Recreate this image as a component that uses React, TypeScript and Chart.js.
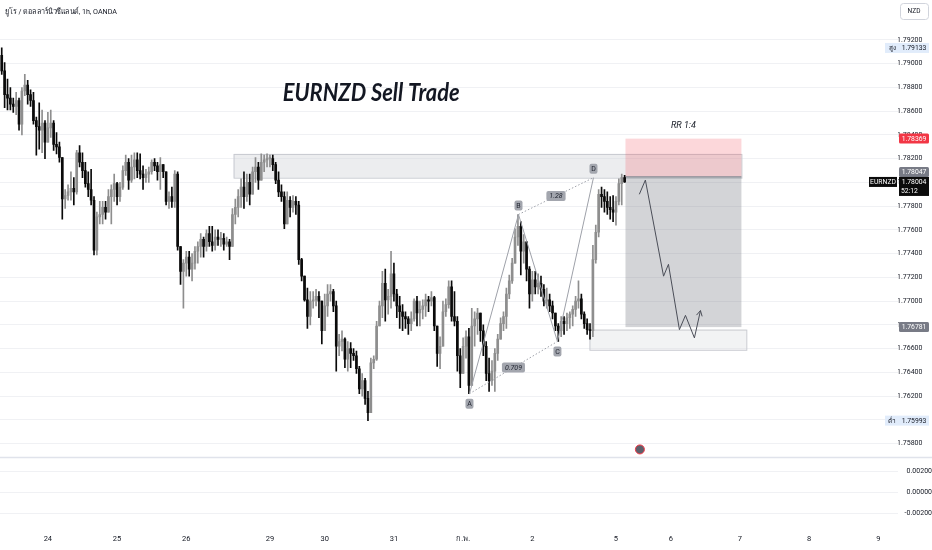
import React, { useEffect, useRef } from 'react';
import { Chart, registerables } from 'chart.js';

Chart.register(...registerables);

// ---------- data (hourly EURNZD candles) ----------
const FIRST_OPEN = 1.7907;

const highs = [
  1.79133, 1.7901, 1.7887, 1.7880, 1.7871, 1.7876, 1.7871, 1.7880, 1.7891, 1.7886,
  1.7878, 1.7876, 1.7855, 1.7867, 1.7861, 1.7852, 1.7859, 1.7861, 1.7852, 1.7842,
  1.7834, 1.7821, 1.7794, 1.7798, 1.7809, 1.7804, 1.7827, 1.7831, 1.7825, 1.7817,
  1.7809, 1.7811, 1.7788, 1.7775, 1.7784, 1.7784, 1.7784, 1.7794, 1.7798, 1.7807,
  1.7800, 1.7800, 1.7814, 1.7823, 1.7820, 1.7823, 1.7825, 1.7825, 1.7824, 1.7814,
  1.7811, 1.7813, 1.7819, 1.7820, 1.7817, 1.7821, 1.7815, 1.7809, 1.7792, 1.7796,
  1.7810, 1.7809, 1.7746, 1.7735, 1.7742, 1.7742, 1.7740, 1.7746, 1.7750, 1.7757,
  1.7754, 1.7760, 1.7763, 1.7763, 1.7760, 1.7760, 1.7758, 1.7757, 1.7754, 1.7752,
  1.7778, 1.7786, 1.7794, 1.7803, 1.7809, 1.7807, 1.7807, 1.7813, 1.7821, 1.7817,
  1.7824, 1.7823, 1.7824, 1.7823, 1.7823, 1.7817, 1.7809, 1.7798, 1.7792, 1.7792,
  1.7788, 1.7789, 1.7788, 1.7784, 1.7736, 1.7719, 1.7711, 1.7708, 1.7708, 1.7710,
  1.7708, 1.7700, 1.7706, 1.7714, 1.7714, 1.7710, 1.7700, 1.7672, 1.7675, 1.7669,
  1.7666, 1.7665, 1.7660, 1.7658, 1.7645, 1.7639, 1.7635, 1.7624, 1.7652, 1.7654,
  1.7683, 1.7700, 1.7725, 1.7727, 1.7710, 1.7742, 1.7732, 1.7710, 1.7704, 1.7697,
  1.7691, 1.7687, 1.7691, 1.7702, 1.7704, 1.7700, 1.7701, 1.7706, 1.7704, 1.7708,
  1.7704, 1.7675, 1.7670, 1.7700, 1.7702, 1.7717, 1.7717, 1.7708, 1.7687, 1.7660,
  1.7669, 1.7675, 1.7677, 1.7694, 1.7691, 1.7694, 1.7687, 1.7680, 1.7666, 1.7652,
  1.7650, 1.7660, 1.7672, 1.7686, 1.7691, 1.7711, 1.7722, 1.7736, 1.7761, 1.7773,
  1.7767, 1.7756, 1.7750, 1.7729, 1.7725, 1.7725, 1.7723, 1.7721, 1.7714, 1.7711,
  1.7706, 1.7700, 1.7687, 1.7681, 1.7687, 1.7687, 1.7690, 1.7691, 1.7696, 1.7704,
  1.7717, 1.7706, 1.7691, 1.7685, 1.7681, 1.7747, 1.7764, 1.7794, 1.7796, 1.7794,
  1.7792, 1.7788, 1.7789, 1.7788, 1.7803, 1.7807, 1.7806,
];

const lows = [
  1.7891, 1.7863, 1.7861, 1.7861, 1.7859, 1.7857, 1.7844, 1.7840, 1.7873, 1.7866,
  1.7864, 1.7849, 1.7823, 1.7828, 1.7825, 1.7820, 1.7834, 1.7838, 1.7827, 1.7824,
  1.7817, 1.7769, 1.7778, 1.7785, 1.7785, 1.7781, 1.7790, 1.7813, 1.7804, 1.7796,
  1.7788, 1.7781, 1.7739, 1.7739, 1.7765, 1.7765, 1.7769, 1.7777, 1.7765, 1.7784,
  1.7781, 1.7784, 1.7794, 1.7806, 1.7794, 1.7800, 1.7803, 1.7804, 1.7803, 1.7794,
  1.7800, 1.7800, 1.7807, 1.7810, 1.7802, 1.7794, 1.7804, 1.7781, 1.7778, 1.7779,
  1.7779, 1.7743, 1.7714, 1.7694, 1.7721, 1.7721, 1.7717, 1.7727, 1.7732, 1.7737,
  1.7737, 1.7742, 1.7746, 1.7742, 1.7743, 1.7747, 1.7746, 1.7743, 1.7746, 1.7735,
  1.7746, 1.7765, 1.7771, 1.7779, 1.7778, 1.7784, 1.7781, 1.7792, 1.7800, 1.7794,
  1.7802, 1.7809, 1.7813, 1.7813, 1.7810, 1.7799, 1.7788, 1.7784, 1.7761, 1.7765,
  1.7771, 1.7775, 1.7773, 1.7731, 1.7717, 1.7700, 1.7677, 1.7680, 1.7694, 1.7696,
  1.7686, 1.7664, 1.7679, 1.7687, 1.7700, 1.7691, 1.7641, 1.7654, 1.7658, 1.7644,
  1.7641, 1.7644, 1.7650, 1.7639, 1.7622, 1.7620, 1.7613, 1.75993, 1.7608, 1.7643,
  1.7650, 1.7681, 1.7686, 1.7683, 1.7689, 1.7694, 1.7700, 1.7686, 1.7677, 1.7675,
  1.7677, 1.7672, 1.7675, 1.7683, 1.7679, 1.7679, 1.7685, 1.7687, 1.7691, 1.7696,
  1.7675, 1.7645, 1.7643, 1.7662, 1.7687, 1.7694, 1.7683, 1.7679, 1.7641, 1.7627,
  1.7639, 1.7652, 1.7622, 1.7629, 1.7662, 1.7672, 1.7666, 1.7654, 1.7633, 1.7624,
  1.7629, 1.7624, 1.7650, 1.7668, 1.7675, 1.7677, 1.7702, 1.7715, 1.7732, 1.7747,
  1.7722, 1.7732, 1.7717, 1.7694, 1.7700, 1.7706, 1.7706, 1.7704, 1.7696, 1.7694,
  1.7691, 1.7685, 1.7675, 1.7666, 1.7670, 1.7672, 1.7675, 1.7677, 1.7679, 1.7687,
  1.7694, 1.7685, 1.7677, 1.7672, 1.7668, 1.7670, 1.7732, 1.7754, 1.7779, 1.7775,
  1.7773, 1.7769, 1.7767, 1.7764, 1.7781, 1.7781, 1.7800,
];

const closes = [
  1.7894, 1.7874, 1.7871, 1.7866, 1.7864, 1.7869, 1.7849, 1.7877, 1.7882, 1.7874,
  1.7869, 1.7852, 1.7847, 1.7844, 1.7850, 1.7834, 1.7846, 1.7850, 1.7832, 1.7830,
  1.7821, 1.7786, 1.7789, 1.7792, 1.7795, 1.7792, 1.7825, 1.7817, 1.7810, 1.7799,
  1.7794, 1.7785, 1.7743, 1.7771, 1.7773, 1.7779, 1.7775, 1.7788, 1.7794, 1.7799,
  1.7788, 1.7796, 1.7810, 1.7817, 1.7802, 1.7813, 1.7819, 1.7810, 1.7807, 1.7804,
  1.7807, 1.7809, 1.7817, 1.7814, 1.7809, 1.7815, 1.7809, 1.7784, 1.7788, 1.7784,
  1.7807, 1.7746, 1.7725, 1.7732, 1.7737, 1.7727, 1.7732, 1.7742, 1.7746, 1.7752,
  1.7746, 1.7757, 1.7750, 1.7747, 1.7754, 1.7752, 1.7753, 1.7748, 1.7750, 1.7746,
  1.7773, 1.7779, 1.7788, 1.7796, 1.7788, 1.7800, 1.7790, 1.7809, 1.7813, 1.7802,
  1.7817, 1.7819, 1.7820, 1.7820, 1.7815, 1.7802, 1.7792, 1.7788, 1.7765, 1.7785,
  1.7779, 1.7784, 1.7781, 1.7735, 1.7721, 1.7701, 1.7687, 1.7700, 1.7701, 1.7704,
  1.7700, 1.7675, 1.7696, 1.7706, 1.7708, 1.7696, 1.7662, 1.7666, 1.7668, 1.7651,
  1.7660, 1.7656, 1.7654, 1.7643, 1.7626, 1.7633, 1.7618, 1.7606, 1.7648, 1.7651,
  1.7679, 1.7696, 1.7715, 1.7701, 1.7704, 1.7723, 1.7706, 1.7696, 1.7691, 1.7687,
  1.7685, 1.7681, 1.7685, 1.7700, 1.7690, 1.7693, 1.7696, 1.7701, 1.7700, 1.7703,
  1.7679, 1.7656, 1.7662, 1.7691, 1.7697, 1.7712, 1.7687, 1.7683, 1.7654, 1.7639,
  1.7662, 1.7670, 1.7629, 1.7679, 1.7685, 1.7690, 1.7675, 1.7662, 1.7639, 1.7633,
  1.7641, 1.7656, 1.7668, 1.7681, 1.7687, 1.7706, 1.7717, 1.7732, 1.7754, 1.7763,
  1.7742, 1.7750, 1.7727, 1.7706, 1.7718, 1.7712, 1.7715, 1.7710, 1.7700, 1.7701,
  1.7696, 1.7690, 1.7679, 1.7675, 1.7683, 1.7681, 1.7686, 1.7689, 1.7693, 1.7700,
  1.7702, 1.7689, 1.7681, 1.7676, 1.7675, 1.7735, 1.7758, 1.7790, 1.7788, 1.7784,
  1.7779, 1.7777, 1.7775, 1.7784, 1.7799, 1.7804, 1.78004,
];

// time axis (bar index of the first bar of each day) and labels
const dayTickIndex = [16, 40, 64, 93, 112, 136, 160, 184, 213, 232, 256, 280, 304];
const dayTickLabels = ['24', '25', '26', '29', '30', '31', 'ก.พ.', '2', '5', '6', '7', '8', '9'];

// price axis ticks
const priceTicks = [
  1.758, 1.760, 1.762, 1.764, 1.766, 1.768, 1.770, 1.772, 1.774, 1.776,
  1.778, 1.780, 1.782, 1.784, 1.786, 1.788, 1.790, 1.792,
];
const oscTicks = [0.002, 0, -0.002];

// ABCD pattern
const patternIndex = [162.2, 179.2, 192.7, 205.2];
const patternPrice = [1.7622, 1.7773, 1.7666, 1.7804];
const patternNames = ['A', 'B', 'C', 'D'];
const patternRatios = ['0.709', '1.28'];

// zones
const supplyIndex = [80.4, 256.5];
const supplyPrice = [1.7824, 1.7804];
const demandIndex = [203.8, 258.2];
const demandPrice = [1.7676, 1.7659];

// short position (stop, entry, target)
const rrIndex = [216.3, 256.5];
const rrPrice = [1.78369, 1.78047, 1.76781];
const rrLabel = 'RR 1:4';

// projected path
const pathIndex = [221.1, 223.2, 229.5, 231.2, 235.0, 237.1, 240.2, 242.3];
const pathPrice = [1.7790, 1.7802, 1.7721, 1.7731, 1.7676, 1.7688, 1.7669, 1.7692];

const headline = 'EURNZD Sell Trade';
const headlineAnchor = [128.1, 1.7875];
const eventIndex = 221.3;

const titleText = 'ยูโร / ดอลลาร์นิวซีแลนด์, 1h, OANDA';
const symbol = 'EURNZD';
const currency = 'NZD';
const HIGH_PRICE = 1.79133;
const LOW_PRICE = 1.75993;
const LAST_PRICE = 1.78004;
const TIMER = '52:12';

// ---------- view settings ----------
const X_MIN = -0.6;
const X_MAX = 310.8;
const Y_MIN = 1.75683;
const Y_MAX = 1.7951;
const OSC_MIN = -0.00333;
const OSC_MAX = 0.00333;
const AXIS_FONT = 'Roboto, sans-serif';
const UP = '#8e8e8e';
const DOWN = '#0a0a0a';

function rr(ctx: CanvasRenderingContext2D, x: number, y: number, w: number, h: number, r: number) {
  ctx.beginPath();
  ctx.moveTo(x + r, y);
  ctx.lineTo(x + w - r, y);
  ctx.quadraticCurveTo(x + w, y, x + w, y + r);
  ctx.lineTo(x + w, y + h - r);
  ctx.quadraticCurveTo(x + w, y + h, x + w - r, y + h);
  ctx.lineTo(x + r, y + h);
  ctx.quadraticCurveTo(x, y + h, x, y + h - r);
  ctx.lineTo(x, y + r);
  ctx.quadraticCurveTo(x, y, x + r, y);
  ctx.closePath();
}

const overlay = {
  id: 'overlay',
  beforeDatasetsDraw(chart: any) {
    const { ctx, chartArea } = chart;
    const X = (v: number) => chart.scales.x.getPixelForValue(v);
    const Y = (v: number) => chart.scales.y.getPixelForValue(v);
    ctx.save();
    ctx.beginPath();
    ctx.rect(chartArea.left, chartArea.top, chartArea.right - chartArea.left, chartArea.bottom - chartArea.top);
    ctx.clip();

    // supply zone
    let x0 = X(supplyIndex[0]), x1 = X(supplyIndex[1]);
    let y0 = Y(supplyPrice[0]), y1 = Y(supplyPrice[1]);
    ctx.fillStyle = 'rgba(210,212,218,0.42)';
    ctx.fillRect(x0, y0, x1 - x0, y1 - y0);
    ctx.strokeStyle = '#c9cbd1';
    ctx.lineWidth = 1;
    ctx.strokeRect(x0 + 0.5, y0 + 0.5, x1 - x0, y1 - y0);

    // demand zone
    x0 = X(demandIndex[0]); x1 = X(demandIndex[1]);
    y0 = Y(demandPrice[0]); y1 = Y(demandPrice[1]);
    ctx.fillStyle = 'rgba(215,217,222,0.32)';
    ctx.fillRect(x0, y0, x1 - x0, y1 - y0);
    ctx.strokeStyle = '#c9cbd1';
    ctx.strokeRect(x0 + 0.5, y0 + 0.5, x1 - x0, y1 - y0);

    // risk / reward
    x0 = X(rrIndex[0]); x1 = X(rrIndex[1]);
    const ys = Y(rrPrice[0]), ye = Y(rrPrice[1]), yt = Y(rrPrice[2]);
    ctx.fillStyle = 'rgba(242,54,69,0.2)';
    ctx.fillRect(x0, ys, x1 - x0, ye - ys);
    ctx.fillStyle = 'rgba(120,123,134,0.33)';
    ctx.fillRect(x0, ye, x1 - x0, yt - ye);
    ctx.strokeStyle = '#8a8d96';
    ctx.lineWidth = 1.2;
    ctx.beginPath();
    ctx.moveTo(x0, ye);
    ctx.lineTo(x1, ye);
    ctx.stroke();
    ctx.restore();
  },
  afterDatasetsDraw(chart: any) {
    const { ctx } = chart;
    const X = (v: number) => chart.scales.x.getPixelForValue(v);
    const Y = (v: number) => chart.scales.y.getPixelForValue(v);
    ctx.save();

    // ABCD pattern
    const px = patternIndex.map(X);
    const py = patternPrice.map(Y);
    ctx.strokeStyle = '#9ea1a9';
    ctx.lineWidth = 1;
    ctx.beginPath();
    ctx.moveTo(px[0], py[0]);
    for (let i = 1; i < 4; i++) ctx.lineTo(px[i], py[i]);
    ctx.stroke();
    ctx.setLineDash([1.5, 2]);
    ctx.beginPath();
    ctx.moveTo(px[0], py[0]);
    ctx.lineTo(px[2], py[2]);
    ctx.moveTo(px[1], py[1]);
    ctx.lineTo(px[3], py[3]);
    ctx.stroke();
    ctx.setLineDash([]);

    // ratio labels
    const ratioPos = [
      [(px[0] + px[2]) / 2, (py[0] + py[2]) / 2],
      [(px[1] + px[3]) / 2, (py[1] + py[3]) / 2],
    ];
    ctx.font = 'italic 7px Roboto, sans-serif';
    ctx.textAlign = 'center';
    ctx.textBaseline = 'middle';
    patternRatios.forEach((t, i) => {
      const [cx, cy] = ratioPos[i];
      const w = ctx.measureText(t).width + 6;
      ctx.fillStyle = '#a3a6ae';
      rr(ctx, cx - w / 2, cy - 5, w, 10, 2);
      ctx.fill();
      ctx.fillStyle = '#1e222d';
      ctx.fillText(t, cx, cy + 0.5);
    });

    // point labels
    ctx.font = '7px Roboto, sans-serif';
    patternNames.forEach((n, i) => {
      const below = i % 2 === 0 && i !== 3;
      const cx = px[i];
      const cy = below ? py[i] + 10 : py[i] - 9;
      ctx.fillStyle = '#a3a6ae';
      rr(ctx, cx - 4, cy - 5, 8, 10, 2);
      ctx.fill();
      ctx.fillStyle = '#1e222d';
      ctx.fillText(n, cx, cy + 0.5);
    });

    // projected path with arrow
    const ax = pathIndex.map(X);
    const ay = pathPrice.map(Y);
    ctx.strokeStyle = '#4a4d57';
    ctx.lineWidth = 1;
    ctx.beginPath();
    ctx.moveTo(ax[0], ay[0]);
    for (let i = 1; i < ax.length; i++) ctx.lineTo(ax[i], ay[i]);
    const n = ax.length - 1;
    const ang = Math.atan2(ay[n] - ay[n - 1], ax[n] - ax[n - 1]);
    ctx.moveTo(ax[n], ay[n]);
    ctx.lineTo(ax[n] - 6 * Math.cos(ang - 0.5), ay[n] - 6 * Math.sin(ang - 0.5));
    ctx.moveTo(ax[n], ay[n]);
    ctx.lineTo(ax[n] - 6 * Math.cos(ang + 0.5), ay[n] - 6 * Math.sin(ang + 0.5));
    ctx.stroke();

    // RR label
    ctx.fillStyle = '#131722';
    ctx.font = 'italic 9px Roboto, sans-serif';
    ctx.fillText(rrLabel, (X(rrIndex[0]) + X(rrIndex[1])) / 2, Y(rrPrice[0]) - 13);

    // headline
    ctx.font = "italic 700 25px Lato, 'Open Sans', sans-serif";
    ctx.fillStyle = '#131722';
    ctx.fillText(headline, X(headlineAnchor[0]), Y(headlineAnchor[1]), 177);

    // event marker
    const ex = X(eventIndex);
    const ey = chart.scales.y.bottom - 8;
    ctx.beginPath();
    ctx.arc(ex, ey, 4.5, 0, Math.PI * 2);
    ctx.fillStyle = '#5d606b';
    ctx.fill();
    ctx.strokeStyle = '#f23645';
    ctx.lineWidth = 1;
    ctx.stroke();
    ctx.restore();
  },
  afterDraw(chart: any) {
    const { ctx, chartArea } = chart;
    const Y = (v: number) => chart.scales.y.getPixelForValue(v);
    const W = chart.width;
    ctx.save();

    // pane separator
    ctx.strokeStyle = '#e0e3eb';
    ctx.lineWidth = 1.5;
    ctx.beginPath();
    ctx.moveTo(0, chart.scales.y.bottom);
    ctx.lineTo(W, chart.scales.y.bottom);
    ctx.stroke();

    // title
    ctx.fillStyle = '#131722';
    ctx.font = '8px Roboto, sans-serif';
    ctx.textAlign = 'left';
    ctx.textBaseline = 'middle';
    ctx.fillText(titleText, 5, 12, 112);

    // currency box
    const bx = chartArea.right + 2;
    ctx.strokeStyle = '#d1d4dc';
    ctx.lineWidth = 1;
    rr(ctx, bx + 0.5, 3.5, 28, 16, 3);
    ctx.stroke();
    ctx.font = `6.5px ${AXIS_FONT}`;
    ctx.textAlign = 'center';
    ctx.fillText(currency, bx + 14, 11.5);

    const tagX = chartArea.right + 1;
    const tagW = 30;
    const tagFont = `6.8px ${AXIS_FONT}`;
    const tag = (yc: number, bg: string, fg: string, text: string) => {
      ctx.fillStyle = bg;
      rr(ctx, tagX, yc - 5, tagW, 10, 1.5);
      ctx.fill();
      ctx.fillStyle = fg;
      ctx.font = tagFont;
      ctx.textAlign = 'center';
      ctx.fillText(text, tagX + tagW / 2, yc + 0.5, tagW - 2);
    };

    // high / low tags
    const hl = (price: number, word: string) => {
      const yc = Y(price);
      ctx.fillStyle = '#e1ecfb';
      ctx.fillRect(tagX - 14, yc - 5, tagW + 14, 10);
      ctx.fillStyle = '#131722';
      ctx.font = `6.5px ${AXIS_FONT}`;
      ctx.textAlign = 'center';
      ctx.fillText(word, tagX - 7, yc + 0.5);
      ctx.font = tagFont;
      ctx.fillText(price.toFixed(5), tagX + tagW / 2, yc + 0.5, tagW - 2);
    };
    hl(HIGH_PRICE, 'สูง');
    hl(LOW_PRICE, 'ต่ำ');

    tag(Y(rrPrice[0]), '#f23645', '#ffffff', rrPrice[0].toFixed(5));
    tag(Y(rrPrice[2]), '#787b86', '#ffffff', rrPrice[2].toFixed(5));

    const yl = Y(LAST_PRICE);
    tag(yl - 10, '#787b86', '#ffffff', rrPrice[1].toFixed(5));
    // last price with countdown
    ctx.fillStyle = '#0b0b0b';
    ctx.fillRect(tagX, yl - 5, tagW, 19);
    ctx.fillRect(tagX - 30, yl - 5, 28, 10);
    ctx.fillStyle = '#ffffff';
    ctx.font = tagFont;
    ctx.textAlign = 'center';
    ctx.fillText(LAST_PRICE.toFixed(5), tagX + tagW / 2, yl + 0.5, tagW - 2);
    ctx.textAlign = 'left';
    ctx.fillText(TIMER, tagX + 2, yl + 9.5);
    ctx.textAlign = 'center';
    ctx.fillText(symbol, tagX - 16, yl + 0.5, 26);
    ctx.restore();
  },
};

export default function App() {
  const ref = useRef<HTMLCanvasElement>(null);
  useEffect(() => {
    const opens = closes.map((c, i) => (i === 0 ? FIRST_OPEN : closes[i - 1]));
    const colors = closes.map((c, i) => (c >= opens[i] ? UP : DOWN));
    const bodies = closes.map((c, i) => ({ x: i, y: [opens[i], c] }));
    const wicks = closes.map((c, i) => ({
      x: i,
      y: [Math.min(lows[i], opens[i], c), Math.max(highs[i], opens[i], c)],
    }));
    const axisTick = { size: 7, family: AXIS_FONT };
    const chart = new Chart(ref.current as HTMLCanvasElement, {
      type: 'bar',
      data: {
        datasets: [
          {
            data: bodies as any,
            backgroundColor: colors,
            barThickness: 2,
            grouped: false,
            minBarLength: 1,
            yAxisID: 'y',
            xAxisID: 'x',
          } as any,
          {
            data: wicks as any,
            backgroundColor: colors,
            barThickness: 1,
            grouped: false,
            yAxisID: 'y',
            xAxisID: 'x',
          } as any,
        ],
      },
      options: {
        animation: false,
        responsive: true,
        maintainAspectRatio: false,
        events: [],
        layout: { padding: 0 },
        plugins: { legend: { display: false }, tooltip: { enabled: false } },
        scales: {
          x: {
            type: 'linear',
            min: X_MIN,
            max: X_MAX,
            offset: false,
            grid: { display: false, drawTicks: false },
            border: { display: false },
            afterBuildTicks: (s: any) => {
              s.ticks = dayTickIndex.map((v) => ({ value: v }));
            },
            afterFit: (s: any) => {
              s.height = 23;
            },
            ticks: {
              autoSkip: false,
              maxRotation: 0,
              padding: 8,
              color: '#131722',
              font: { size: 7.5, family: AXIS_FONT },
              callback: (v: any) => {
                const k = dayTickIndex.indexOf(Number(v));
                return k >= 0 ? dayTickLabels[k] : '';
              },
            },
          },
          y: {
            type: 'linear',
            position: 'right',
            stack: 'pane',
            stackWeight: 457,
            min: Y_MIN,
            max: Y_MAX,
            afterBuildTicks: (s: any) => {
              s.ticks = priceTicks.map((v) => ({ value: v }));
            },
            afterFit: (s: any) => {
              s.width = 34;
            },
            grid: { color: '#f0f1f4', drawTicks: false },
            border: { display: false },
            ticks: {
              autoSkip: false,
              crossAlign: 'near',
              padding: -1,
              color: '#131722',
              font: axisTick,
              callback: (v: any) => Number(v).toFixed(5),
            },
          },
          y2: {
            type: 'linear',
            position: 'right',
            stack: 'pane',
            stackWeight: 70,
            min: OSC_MIN,
            max: OSC_MAX,
            afterBuildTicks: (s: any) => {
              s.ticks = oscTicks.map((v) => ({ value: v }));
            },
            afterFit: (s: any) => {
              s.width = 34;
            },
            grid: { color: '#f0f1f4', drawTicks: false },
            border: { display: false },
            ticks: {
              autoSkip: false,
              crossAlign: 'far',
              padding: -11,
              color: '#131722',
              font: axisTick,
              callback: (v: any) => Number(v).toFixed(5),
            },
          },
        } as any,
      },
      plugins: [overlay as any],
    });
    return () => chart.destroy();
  }, []);
  return (
    <div style={{ position: 'absolute', left: 0, top: 0, width: 932, height: 550, background: '#ffffff' }}>
      <canvas ref={ref} />
    </div>
  );
}
